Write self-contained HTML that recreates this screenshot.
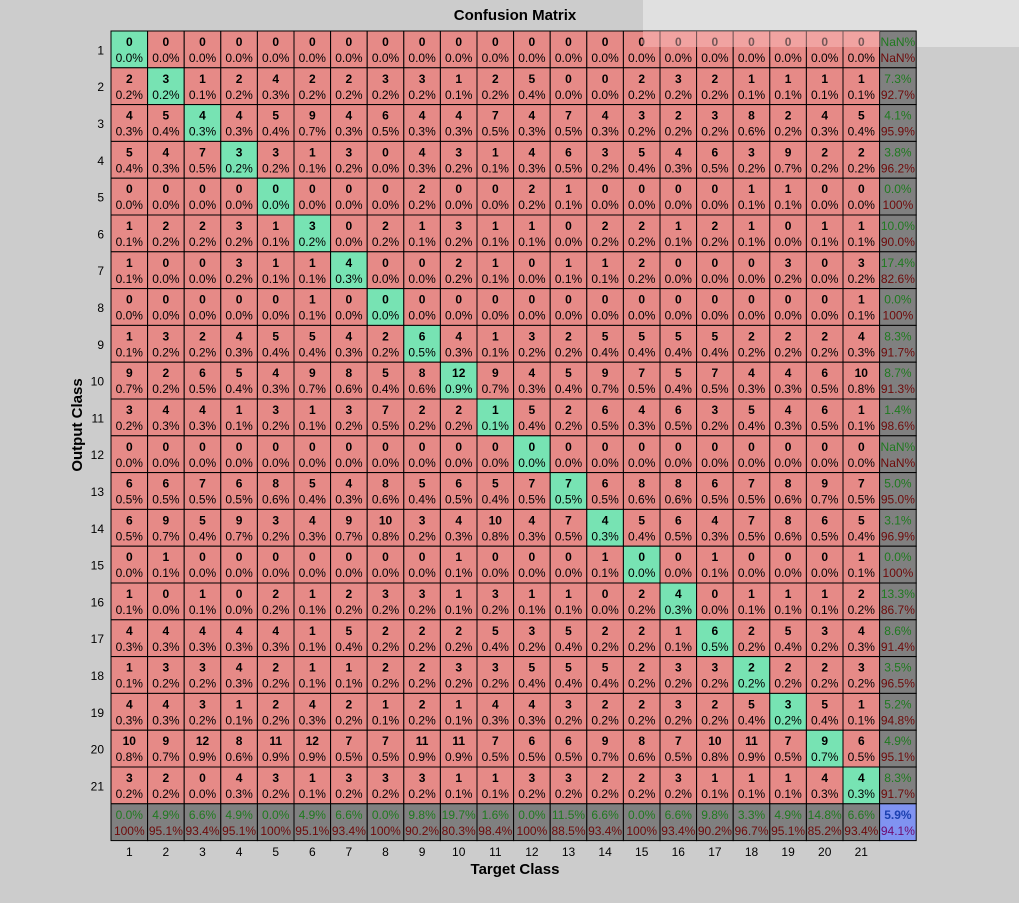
<!DOCTYPE html>
<html><head><meta charset="utf-8"><style>
html,body{margin:0;padding:0;background:#cccccc;}
svg{display:block;font-family:"Liberation Sans",Arial,sans-serif;}
</style></head><body>
<svg id="chart" width="1019" height="903" viewBox="0 0 1019 903" xmlns="http://www.w3.org/2000/svg">
<rect x="0" y="0" width="1019" height="903" fill="#cccccc"/>
<rect x="643" y="0" width="376" height="47" fill="#e0e0e0"/>
<text x="515" y="20" text-anchor="middle" font-size="15" font-weight="bold">Confusion Matrix</text>
<text x="515" y="874" text-anchor="middle" font-size="15" font-weight="bold">Target Class</text>
<text transform="translate(82,425) rotate(-90)" text-anchor="middle" font-size="15" font-weight="bold">Output Class</text>
<g id="cells"></g>
<rect x="643" y="31" width="237" height="16" fill="#ffc0c0" fill-opacity="0.45"/>
</svg>
<script>
const classLabels = ["1","2","3","4","5","6","7","8","9","10","11","12","13","14","15","16","17","18","19","20","21"];
const row1  = [0,0,0,0,0,0,0,0,0,0,0,0,0,0,0,0,0,0,0,0,0];
const row2  = [2,3,1,2,4,2,2,3,3,1,2,5,0,0,2,3,2,1,1,1,1];
const row3  = [4,5,4,4,5,9,4,6,4,4,7,4,7,4,3,2,3,8,2,4,5];
const row4  = [5,4,7,3,3,1,3,0,4,3,1,4,6,3,5,4,6,3,9,2,2];
const row5  = [0,0,0,0,0,0,0,0,2,0,0,2,1,0,0,0,0,1,1,0,0];
const row6  = [1,2,2,3,1,3,0,2,1,3,1,1,0,2,2,1,2,1,0,1,1];
const row7  = [1,0,0,3,1,1,4,0,0,2,1,0,1,1,2,0,0,0,3,0,3];
const row8  = [0,0,0,0,0,1,0,0,0,0,0,0,0,0,0,0,0,0,0,0,1];
const row9  = [1,3,2,4,5,5,4,2,6,4,1,3,2,5,5,5,5,2,2,2,4];
const row10 = [9,2,6,5,4,9,8,5,8,12,9,4,5,9,7,5,7,4,4,6,10];
const row11 = [3,4,4,1,3,1,3,7,2,2,1,5,2,6,4,6,3,5,4,6,1];
const row12 = [0,0,0,0,0,0,0,0,0,0,0,0,0,0,0,0,0,0,0,0,0];
const row13 = [6,6,7,6,8,5,4,8,5,6,5,7,7,6,8,8,6,7,8,9,7];
const row14 = [6,9,5,9,3,4,9,10,3,4,10,4,7,4,5,6,4,7,8,6,5];
const row15 = [0,1,0,0,0,0,0,0,0,1,0,0,0,1,0,0,1,0,0,0,1];
const row16 = [1,0,1,0,2,1,2,3,3,1,3,1,1,0,2,4,0,1,1,1,2];
const row17 = [4,4,4,4,4,1,5,2,2,2,5,3,5,2,2,1,6,2,5,3,4];
const row18 = [1,3,3,4,2,1,1,2,2,3,3,5,5,5,2,3,3,2,2,2,3];
const row19 = [4,4,3,1,2,4,2,1,2,1,4,4,3,2,2,3,2,5,3,5,1];
const row20 = [10,9,12,8,11,12,7,7,11,11,7,6,6,9,8,7,10,11,7,9,6];
const row21 = [3,2,0,4,3,1,3,3,3,1,1,3,3,2,2,3,1,1,1,4,4];
const matrix = [row1,row2,row3,row4,row5,row6,row7,row8,row9,row10,row11,row12,row13,row14,row15,row16,row17,row18,row19,row20,row21];

const NS = "http://www.w3.org/2000/svg";
const X0 = 111, Y0 = 31, CW = 36.6, CH = 36.8;
const n = classLabels.length;
const xPos = i => X0 + i * CW;
const yPos = i => Y0 + i * CH;
const g = document.getElementById('cells');
const svg = document.getElementById('chart');
let total = 0, diag = 0;
matrix.forEach((r,i)=>r.forEach((v,j)=>{ total += v; if(i===j) diag += v; }));
const fmt = p => isNaN(p) ? "NaN%" : (Math.abs(p-100)<1e-9 ? "100%" : p.toFixed(1)+"%");

function mk(tag, attrs){ const e=document.createElementNS(NS,tag); for(const k in attrs) e.setAttribute(k,attrs[k]); return e; }

function cell(i, j, fill, top, bottom, topColor, botColor, topBold, name){
  const r = mk('rect',{x:xPos(j), y:yPos(i), width:CW, height:CH, fill:fill, stroke:'#000', 'stroke-width':1});
  
  
  g.appendChild(r);
  const cx = xPos(j) + CW/2;
  const t1 = mk('text',{x:cx, y:yPos(i)+15, 'text-anchor':'middle', 'font-size':12, fill:topColor, 'font-weight': topBold?'bold':'normal'});
  t1.textContent = top;
  
  
  g.appendChild(t1);
  const t2 = mk('text',{x:cx, y:yPos(i)+31, 'text-anchor':'middle', 'font-size':12, fill:botColor});
  t2.textContent = bottom;
  
  
  g.appendChild(t2);
}

for (let i=0;i<n;i++){
  for (let j=0;j<n;j++){
    const v = matrix[i][j];
    cell(i, j, i===j ? '#77e3b3' : '#e68a87', String(v), fmt(v/total*100), '#000', '#000', true, 'cell-r'+(i+1)+'-c'+(j+1));
  }
  const rs = matrix[i].reduce((a,b)=>a+b,0);
  const acc = matrix[i][i]/rs*100;
  cell(i, n, '#808080', fmt(acc), fmt(100-acc), '#1f7a1f', '#6e0a0a', false, 'row-summary-'+(i+1));
}
for (let j=0;j<n;j++){
  let cs = 0; for (let i=0;i<n;i++) cs += matrix[i][j];
  const acc = matrix[j][j]/cs*100;
  cell(n, j, '#808080', fmt(acc), fmt(100-acc), '#1f7a1f', '#6e0a0a', false, 'col-summary-'+(j+1));
}
const oa = diag/total*100;
cell(n, n, '#8093f1', fmt(oa), fmt(100-oa), '#1a3fb0', '#6e0a6e', true, 'overall-accuracy');

for (let i=0;i<n;i++){
  const t = mk('text',{x:104, y:yPos(i)+CH/2+5, 'text-anchor':'end', 'font-size':12, fill:'#000'});
  t.textContent = classLabels[i];
  
  
  svg.appendChild(t);
  const u = mk('text',{x:xPos(i)+CW/2, y:856, 'text-anchor':'middle', 'font-size':12, fill:'#000'});
  u.textContent = classLabels[i];
  
  
  svg.appendChild(u);
}
</script>
</body></html>
